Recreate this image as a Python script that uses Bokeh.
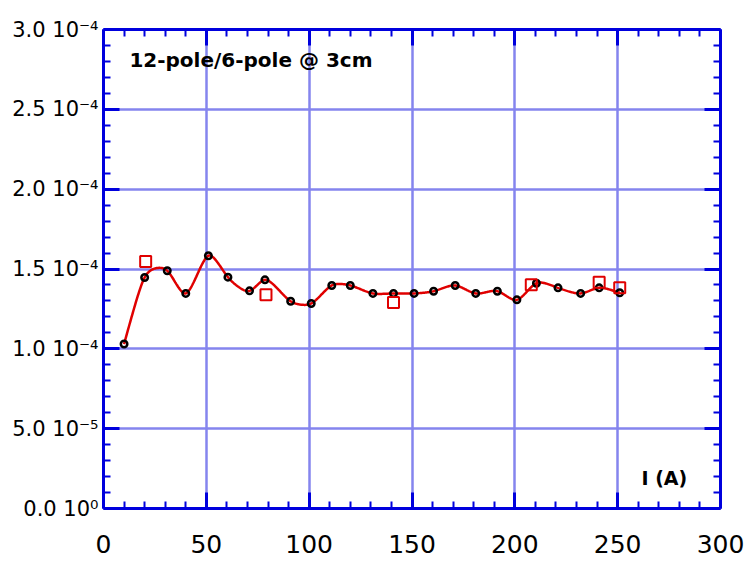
import numpy as np
from bokeh.plotting import figure
from bokeh.models import LinearAxis, FixedTicker, Range1d, Label
from bokeh.embed import file_html
from bokeh.resources import INLINE

# ---- data ----
current_A = [10, 20, 31, 40, 51, 60.5, 71, 78.5, 91, 101, 111, 120, 131, 141, 151,
             160.5, 171, 181, 191.5, 201, 210.5, 221, 232, 241, 251]
ratio = [1.03e-4, 1.447e-4, 1.489e-4, 1.347e-4, 1.583e-4, 1.449e-4, 1.363e-4, 1.432e-4,
         1.298e-4, 1.284e-4, 1.397e-4, 1.397e-4, 1.347e-4, 1.347e-4, 1.347e-4, 1.361e-4,
         1.397e-4, 1.347e-4, 1.361e-4, 1.307e-4, 1.411e-4, 1.382e-4, 1.347e-4, 1.382e-4,
         1.351e-4]
sq_current = [20.5, 79, 141, 208, 241, 251]
sq_ratio = [1.547e-4, 1.338e-4, 1.290e-4, 1.401e-4, 1.417e-4, 1.382e-4]

x_ticks = [0, 50, 100, 150, 200, 250, 300]
x_minor = [v for v in range(0, 301, 10) if v % 50]
y_ticks = [0.0, 5e-5, 1e-4, 1.5e-4, 2e-4, 2.5e-4, 3e-4]
y_tick_labels = ["0.0 10\u2070", "5.0 10\u207b\u2075", "1.0 10\u207b\u2074", "1.5 10\u207b\u2074",
                 "2.0 10\u207b\u2074", "2.5 10\u207b\u2074", "3.0 10\u207b\u2074"]
y_minor = [k * 1e-5 for k in range(0, 31) if k % 5]


def tension_spline(x, y, tension=4.0, n=30):
    """Natural spline under tension through the given points."""
    x = np.asarray(x, float)
    y = np.asarray(y, float)
    N = len(x)
    h = np.diff(x)
    sig = tension * (N - 1) / (x[-1] - x[0])
    sh = np.sinh(sig * h)
    ch = np.cosh(sig * h)
    a = 1.0 / (sig ** 2 * h) - 1.0 / (sig * sh)
    b = ch / (sig * sh) - 1.0 / (sig ** 2 * h)
    d = np.diff(y) / h
    A = np.zeros((N, N))
    r = np.zeros(N)
    A[0, 0] = A[-1, -1] = 1.0
    for i in range(1, N - 1):
        A[i, i - 1] = a[i - 1]
        A[i, i] = b[i - 1] + b[i]
        A[i, i + 1] = a[i]
        r[i] = d[i] - d[i - 1]
    M = np.linalg.solve(A, r)
    xs, ys = [], []
    for i in range(N - 1):
        t = np.linspace(x[i], x[i + 1], n, endpoint=(i == N - 2))
        s = ((M[i] * np.sinh(sig * (x[i + 1] - t)) + M[i + 1] * np.sinh(sig * (t - x[i])))
             / (sig ** 2 * sh[i])
             + (y[i] - M[i] / sig ** 2) * (x[i + 1] - t) / h[i]
             + (y[i + 1] - M[i + 1] / sig ** 2) * (t - x[i]) / h[i])
        xs.extend(t.tolist())
        ys.extend(s.tolist())
    return xs, ys


AXIS_BLUE = "#0000DD"
GRID_BLUE = "#8585EE"
RED = "#E00000"
TICK_FONT = "DejaVu Sans"

p = figure(width=749, height=563,
           x_range=Range1d(0, 300), y_range=Range1d(0, 3e-4),
           output_backend="svg", toolbar_location=None,
           min_border_left=103, min_border_right=29, min_border_top=29, min_border_bottom=55,
           background_fill_color="white", border_fill_color="white")
p.outline_line_color = None

xt = FixedTicker(ticks=x_ticks, minor_ticks=x_minor)
yt = FixedTicker(ticks=y_ticks, minor_ticks=y_minor)


def style_axis(ax, labels=True):
    ax.axis_line_color = AXIS_BLUE
    ax.axis_line_width = 3
    ax.major_tick_line_color = AXIS_BLUE
    ax.major_tick_line_width = 3
    ax.minor_tick_line_color = AXIS_BLUE
    ax.minor_tick_line_width = 2
    ax.major_tick_in = 16
    ax.major_tick_out = 0
    ax.minor_tick_in = 7
    ax.minor_tick_out = 0
    if not labels:
        ax.major_label_text_color = None
        ax.major_label_text_font_size = "1px"
        ax.major_label_standoff = 0


xa = p.xaxis[0]
xa.ticker = xt
style_axis(xa)
xa.major_label_text_font = TICK_FONT
xa.major_label_text_font_size = "25px"
xa.major_label_text_color = "black"
xa.major_label_text_line_height = 1.0
xa.major_label_standoff = 26

ya = p.yaxis[0]
ya.ticker = yt
style_axis(ya)
ya.major_label_overrides = {t: s for t, s in zip(y_ticks, y_tick_labels)}
ya.major_label_text_font = TICK_FONT
ya.major_label_text_font_size = "21px"
ya.major_label_text_color = "black"
ya.major_label_standoff = 5

top = LinearAxis(ticker=FixedTicker(ticks=x_ticks, minor_ticks=x_minor))
style_axis(top, labels=False)
p.add_layout(top, "above")
right = LinearAxis(ticker=FixedTicker(ticks=y_ticks, minor_ticks=y_minor))
style_axis(right, labels=False)
p.add_layout(right, "right")

p.xgrid.ticker = xt
p.ygrid.ticker = yt
for g in (p.xgrid[0], p.ygrid[0]):
    g.grid_line_color = GRID_BLUE
    g.grid_line_width = 2.5

sx, sy = tension_spline(current_A, ratio)
p.line(sx, sy, line_color=RED, line_width=2.5)
p.scatter(current_A, ratio, marker="circle", size=6.5, line_color="black",
          line_width=2.5, fill_color=None)
p.scatter(sq_current, sq_ratio, marker="square", size=11, line_color=RED,
          line_width=2, fill_color=None)

p.add_layout(Label(x=12.6, y=2.806e-4, text="12-pole/6-pole @ 3cm",
                   text_font="DejaVu Sans", text_font_style="bold",
                   text_font_size="20px", text_baseline="middle", text_color="black"))
p.add_layout(Label(x=272.7, y=0.194e-4, text="I (A)",
                   text_font="DejaVu Sans", text_font_style="bold",
                   text_font_size="19px", text_align="center", text_baseline="middle",
                   text_color="black"))

open("out.html", "w").write(file_html(p, INLINE))
